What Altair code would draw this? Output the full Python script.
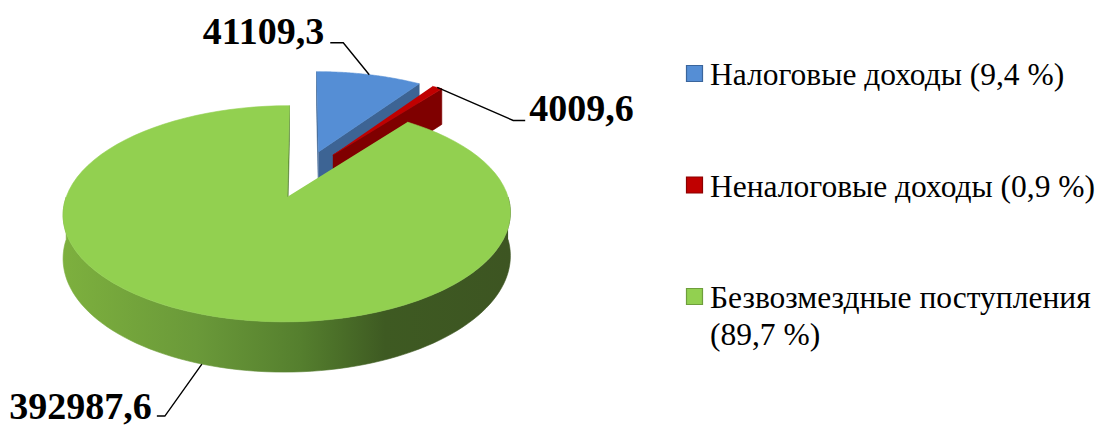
import altair as alt
import pandas as pd

# ---------------- data ----------------
CATEGORIES = ["Налоговые доходы", "Неналоговые доходы", "Безвозмездные поступления"]
VALUES = [41109.3, 4009.6, 392987.6]

# ---------------- styles ----------------
TOP_COLORS = ["#558ED5", "#C00000", "#92D050"]
WALL_COLORS = ["#3D6494", "#7F0000", "#4F7A2C"]
LEGEND_STROKES = ["#3A659C", "#8C0000", "#6E9E3C"]
SIDE_STOPS = [(0.0, "#7DB03E"), (0.30, "#6A9939"), (0.53, "#557F2E"),
              (0.62, "#4A6E28"), (0.72, "#3E5A22"), (1.0, "#3D5522")]
SERIF = "'Liberation Serif', 'Times New Roman', Times, serif"

# 3-D projection layout (pixels)
CX, CY = 304.0, 173.8
RX, RY = 213.4, 98.4
PERSP = 0.15
EXPLODE = 0.24
DEPTH = 41.0
N = 90

# data label layout
ELBOW_DX = [-26, 76, -37]
ELBOW_DY = [-32, 33, 52]
HSEG = [13, 12, 8]
TEXT_GAP = [6, 4, 5]
TEXT_DY = [1, 1, 3]
LABEL_ALIGN = ["right", "left", "right"]

# legend layout
LEG_X_SQ = 694.5
LEG_X_TXT = 710
LEG_Y0 = 85
LEG_STEP = 111.5

W, H = 1087, 418

df = pd.DataFrame({
    "cat": CATEGORIES,
    "value": VALUES,
    "idx": list(range(len(CATEGORIES))),
    "edx": ELBOW_DX,
    "edy": ELBOW_DY,
    "hseg": HSEG,
    "tgap": TEXT_GAP,
    "tdy": TEXT_DY,
})

xs = alt.Scale(domain=[8, 8 + W], nice=False, zero=False)
ys = alt.Scale(domain=[8, 8 + H], nice=False, zero=False, reverse=True)


def proj_x(u, v):
    return f"{CX} + {RX}*({u})/(1 + {PERSP}*({v}))"


def proj_y(u, v, z):
    return f"{CY} + (-{RY}*({v}) + {DEPTH}*({z}))/(1 + {PERSP}*({v}))"


def xy(xf="X", yf="Y"):
    return dict(x=alt.X(f"{xf}:Q", scale=xs, axis=None),
                y=alt.Y(f"{yf}:Q", scale=ys, axis=None))


base = (
    alt.Chart(df)
    .transform_joinaggregate(total="sum(value)")
    .transform_window(cum="sum(value)", sort=[alt.SortField("idx", order="ascending")],
                      frame=[None, 0])
    .transform_calculate(a0="2*PI*(datum.cum - datum.value)/datum.total")
    .transform_calculate(a1="2*PI*datum.cum/datum.total")
    .transform_calculate(am="(datum.a0 + datum.a1)/2")
    .transform_calculate(u0=f"{EXPLODE}*sin(datum.am)")
    .transform_calculate(v0=f"{EXPLODE}*cos(datum.am)")
)


def finish(c):
    return (c.transform_calculate(X=proj_x("datum.u", "datum.v"))
             .transform_calculate(Y=proj_y("datum.u", "datum.v", "datum.z")))


def top_layer(i):
    c = (base.transform_filter(f"datum.idx == {i}")
         .transform_calculate(k=f"sequence(0, {N + 2})")
         .transform_flatten(["k"])
         .transform_calculate(th=f"datum.a0 + (datum.a1 - datum.a0)*min(datum.k, {N})/{N}")
         .transform_calculate(arc=f"datum.k <= {N} ? 1 : 0")
         .transform_calculate(u="datum.u0 + datum.arc*sin(datum.th)")
         .transform_calculate(v="datum.v0 + datum.arc*cos(datum.th)")
         .transform_calculate(z="0"))
    return finish(c).mark_line(fill=TOP_COLORS[i], stroke=TOP_COLORS[i], strokeWidth=0.6).encode(
        order="k:Q", **xy())


def wall_layer(i):
    c = (base.transform_filter(f"datum.idx == {i}")
         .transform_calculate(w="[0, 1]")
         .transform_flatten(["w"])
         .transform_calculate(tw="datum.w == 0 ? datum.a0 : datum.a1")
         .transform_calculate(sg="datum.w == 0 ? -1 : 1")
         .transform_filter(
             f"datum.sg*(-datum.u0*cos(datum.tw) + sin(datum.tw)*({1 / PERSP} + datum.v0)) > 0")
         .transform_calculate(k="[0, 1, 2, 3]")
         .transform_flatten(["k"])
         .transform_calculate(arc="(datum.k == 1 || datum.k == 2) ? 1 : 0")
         .transform_calculate(z="datum.k >= 2 ? 1 : 0")
         .transform_calculate(u="datum.u0 + datum.arc*sin(datum.tw)")
         .transform_calculate(v="datum.v0 + datum.arc*cos(datum.tw)"))
    return finish(c).mark_line(fill=WALL_COLORS[i], stroke=WALL_COLORS[i], strokeWidth=0.6).encode(
        order="k:Q", detail="w:N", **xy())


def side_layer(i):
    c = (base.transform_filter(f"datum.idx == {i}")
         .transform_calculate(lo="max(datum.a0, PI/2)")
         .transform_calculate(hi="min(datum.a1, 3*PI/2)")
         .transform_filter("datum.lo < datum.hi")
         .transform_calculate(k=f"sequence(0, {2 * N + 2})")
         .transform_flatten(["k"])
         .transform_calculate(kk=f"datum.k <= {N} ? datum.k : {2 * N + 1} - datum.k")
         .transform_calculate(th=f"datum.lo + (datum.hi - datum.lo)*datum.kk/{N}")
         .transform_calculate(z=f"datum.k <= {N} ? 0 : 1")
         .transform_calculate(u="datum.u0 + sin(datum.th)")
         .transform_calculate(v="datum.v0 + cos(datum.th)"))
    grad = alt.Gradient(gradient="linear", x1=0, x2=1, y1=0, y2=0,
                        stops=[alt.GradientStop(offset=o, color=col) for o, col in SIDE_STOPS])
    fill = grad if i == 2 else WALL_COLORS[i]
    return finish(c).mark_line(fill=fill, stroke=fill, strokeWidth=0.6).encode(
        order="k:Q", **xy())


anch = (
    base.transform_calculate(front="cos(datum.am) < 0 ? 1 : 0")
    .transform_calculate(au="datum.u0 + sin(datum.am)")
    .transform_calculate(av="datum.v0 + cos(datum.am)")
    .transform_calculate(ax=proj_x("datum.au", "datum.av"))
    .transform_calculate(ay=proj_y("datum.au", "datum.av", "datum.front"))
    .transform_calculate(ex="datum.ax + datum.edx")
    .transform_calculate(ey="datum.ay + datum.edy")
    .transform_calculate(sgn="datum.edx < 0 ? -1 : 1")
)

leaders = (
    anch.transform_calculate(k="[0, 1, 2]")
    .transform_flatten(["k"])
    .transform_calculate(
        X="datum.k == 0 ? datum.ax : (datum.k == 1 ? datum.ex : datum.ex + datum.hseg*datum.sgn)")
    .transform_calculate(Y="datum.k == 0 ? datum.ay : datum.ey")
    .mark_line(color="black", strokeWidth=1.4)
    .encode(order="k:Q", detail="idx:N", **xy())
)


def label_layer(i):
    return (anch.transform_filter(f"datum.idx == {i}")
            .transform_calculate(TX="datum.ex + datum.sgn*(datum.hseg + datum.tgap)")
            .transform_calculate(TY="datum.ey + datum.tdy")
            .transform_calculate(txt="replace(format(datum.value, '.1f'), '.', ',')")
            .mark_text(font=SERIF, fontWeight="bold", fontSize=38,
                       align=LABEL_ALIGN[i], baseline="alphabetic", color="black")
            .encode(text="txt:N", **xy("TX", "TY")))


leg = (
    base.transform_calculate(pct="replace(format(100*datum.value/datum.total, '.1f'), '.', ',')")
    .transform_calculate(
        label="length(datum.cat) > 20 ? datum.cat + '\\n(' + datum.pct + ' %)' : datum.cat + ' (' + datum.pct + ' %)'")
    .transform_calculate(LY=f"{LEG_Y0} + datum.idx*{LEG_STEP}")
    .transform_calculate(SY="datum.LY - 11.5")
    .transform_calculate(SX=f"{LEG_X_SQ}")
    .transform_calculate(TX=f"{LEG_X_TXT}")
)

leg_sq = leg.mark_square(size=256, filled=True, strokeWidth=1.2, opacity=1).encode(
    fill=alt.Fill("cat:N", scale=alt.Scale(domain=CATEGORIES, range=TOP_COLORS), legend=None),
    stroke=alt.Stroke("cat:N", scale=alt.Scale(domain=CATEGORIES, range=LEGEND_STROKES), legend=None),
    **xy("SX", "SY"))

leg_txt = leg.mark_text(font=SERIF, fontSize=31.5, align="left", baseline="alphabetic",
                        lineBreak="\n", lineHeight=37, color="black").encode(
    text="label:N", **xy("TX", "LY"))

layers = []
for i in range(len(CATEGORIES)):
    layers += [side_layer(i), wall_layer(i), top_layer(i)]
layers += [leaders] + [label_layer(i) for i in range(len(CATEGORIES))] + [leg_sq, leg_txt]

chart = (
    alt.layer(*layers)
    .properties(width=W, height=H, autosize=alt.AutoSizeParams(type="none"), padding=0)
    .configure_view(stroke=None)
)

chart.save("out.html", embed_options={"renderer": "svg", "actions": False})
